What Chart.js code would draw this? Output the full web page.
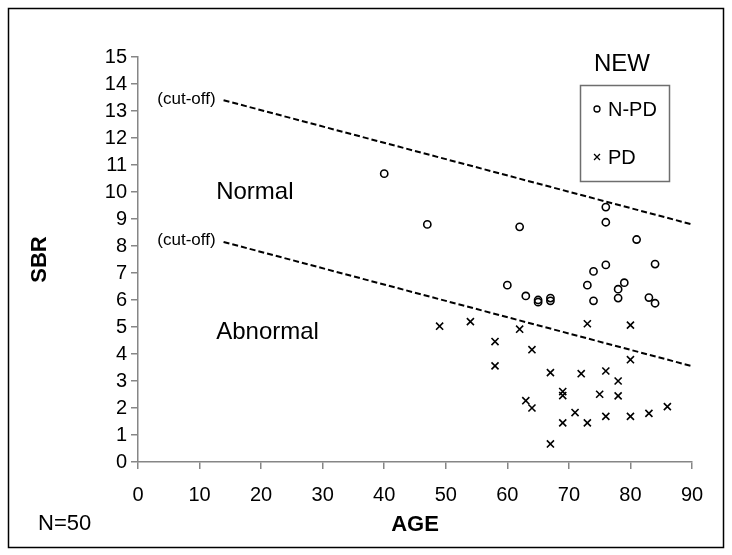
<!DOCTYPE html>
<html>
<head>
<meta charset="utf-8">
<script src="https://cdn.jsdelivr.net/npm/chart.js@4/dist/chart.umd.min.js"></script>
<style>
  body { margin: 0; background: #fff; }
  #wrap { width: 732px; height: 555px; }
</style>
</head>
<body>
<div id="wrap"><canvas id="myChart" width="732" height="555"></canvas></div>
<script>
// N-PD (circles)
const npdAge = [40, 47, 62, 76, 76, 81, 76, 84, 74, 60, 73, 79, 78, 63, 65, 65, 67, 67, 74, 78, 83, 84];
const npdSbr = [10.68, 8.8, 8.71, 9.44, 8.88, 8.24, 7.3, 7.33, 7.06, 6.55, 6.55, 6.64, 6.4, 6.15, 6.0, 5.92, 6.07, 5.97, 5.97, 6.07, 6.09, 5.88];
// PD (crosses)
const pdAge = [49, 54, 62, 58, 64, 58, 67, 72, 76, 78, 73, 80, 80, 69, 69, 75, 78, 63, 64, 71, 69, 73, 76, 80, 83, 86, 67];
const pdSbr = [5.03, 5.2, 4.92, 4.46, 4.16, 3.56, 3.31, 3.27, 3.37, 3.0, 5.12, 5.07, 3.79, 2.61, 2.46, 2.51, 2.45, 2.27, 2.0, 1.83, 1.45, 1.45, 1.69, 1.69, 1.8, 2.05, 0.67];
// cut-off lines
const cutAge = [13.9, 90];
const upperCut = [13.4, 8.8];
const lowerCut = [8.15, 3.55];

const legendTitle = 'NEW';
const noteText = 'N=50';
const FONT = '"Liberation Sans", Arial, sans-serif';

const toPoints = (xs, ys) => xs.map((x, i) => ({ x: x, y: ys[i] }));

const ctx = document.getElementById('myChart').getContext('2d');

// annotations, legend and frame
const extras = {
    id: 'extras',
    afterDraw(chart) {
        const c = chart.ctx;
        const xs = chart.scales.x;
        const ys = chart.scales.y;
        c.save();
        c.fillStyle = '#000';

        // (cut-off) labels
        c.font = '17px ' + FONT;
        c.textAlign = 'right';
        c.textBaseline = 'middle';
        c.fillText('(cut-off)', xs.getPixelForValue(12.6), ys.getPixelForValue(upperCut[0] + 0.05));
        c.fillText('(cut-off)', xs.getPixelForValue(12.6), ys.getPixelForValue(lowerCut[0] + 0.05));

        c.font = '24px ' + FONT;
        c.textAlign = 'left';
        c.fillText('Normal', xs.getPixelForValue(12.7), ys.getPixelForValue(10.0));
        c.fillText('Abnormal', xs.getPixelForValue(12.7), ys.getPixelForValue(4.8));

        // legend
        c.font = '24px ' + FONT;
        c.textAlign = 'center';
        c.fillText(legendTitle, 622, 64);
        c.strokeStyle = '#6e6e6e';
        c.lineWidth = 1.5;
        c.strokeRect(580.5, 85.5, 89, 96);
        c.font = '20px ' + FONT;
        c.textAlign = 'left';
        const items = chart.data.datasets.slice(0, 2);
        items.forEach((ds, i) => {
            const y = 109 + i * 48;
            c.strokeStyle = '#000';
            c.fillStyle = 'rgba(0,0,0,0)';
            c.lineWidth = 1.3;
            Chart.helpers.drawPoint(c, {
                pointStyle: ds.pointStyle,
                radius: ds.pointStyle === 'circle' ? 3 : 4.2,
                borderWidth: 1.3
            }, 597, y);
            c.fillStyle = '#000';
            c.fillText(ds.label, 608, y + 1);
        });

        // N=50
        c.font = '22px ' + FONT;
        c.textAlign = 'left';
        c.fillText(noteText, 38, 524);

        // outer frame
        c.strokeStyle = '#000';
        c.lineWidth = 1.5;
        c.strokeRect(8.5, 8.5, 715, 539);
        c.restore();
    }
};

new Chart(ctx, {
    type: 'scatter',
    data: {
        datasets: [
            {
                label: 'N-PD',
                data: toPoints(npdAge, npdSbr),
                pointStyle: 'circle',
                pointRadius: 3.6,
                pointBorderWidth: 1.6,
                borderColor: '#000',
                backgroundColor: 'rgba(0,0,0,0)'
            },
            {
                label: 'PD',
                data: toPoints(pdAge, pdSbr),
                pointStyle: 'crossRot',
                pointRadius: 5,
                pointBorderWidth: 1.6,
                borderColor: '#000',
                backgroundColor: '#000'
            },
            {
                label: 'upper cut-off',
                data: toPoints(cutAge, upperCut),
                showLine: true,
                pointRadius: 0,
                borderColor: '#000',
                borderWidth: 2,
                borderDash: [6, 3]
            },
            {
                label: 'lower cut-off',
                data: toPoints(cutAge, lowerCut),
                showLine: true,
                pointRadius: 0,
                borderColor: '#000',
                borderWidth: 2,
                borderDash: [6, 3]
            }
        ]
    },
    options: {
        responsive: false,
        animation: false,
        layout: { padding: { left: 0, right: 40, top: 57, bottom: 0 } },
        plugins: {
            legend: { display: false },
            tooltip: { enabled: false }
        },
        scales: {
            x: {
                type: 'linear',
                min: 0,
                max: 90,
                afterFit: (scale) => { scale.height = 93; },
                ticks: { stepSize: 10, color: '#000', padding: 14, font: { family: FONT, size: 20 } },
                grid: { drawOnChartArea: false, drawTicks: true, tickLength: 7, color: '#868686', lineWidth: 1.5 },
                border: { display: true, color: '#868686', width: 1.5 },
                title: { display: true, text: 'AGE', color: '#000', padding: { top: 0, bottom: 17 }, font: { family: FONT, size: 22, weight: 'bold' } }
            },
            y: {
                type: 'linear',
                min: 0,
                max: 15,
                afterFit: (scale) => { scale.width = 138; },
                ticks: { stepSize: 1, color: '#000', padding: 4, font: { family: FONT, size: 20 } },
                grid: { drawOnChartArea: false, drawTicks: true, tickLength: 7, color: '#868686', lineWidth: 1.5 },
                border: { display: true, color: '#868686', width: 1.5 },
                title: { display: true, text: 'SBR', color: '#000', padding: { top: 27, bottom: 0 }, font: { family: FONT, size: 22, weight: 'bold' } }
            }
        }
    },
    plugins: [extras]
});
</script>
</body>
</html>
